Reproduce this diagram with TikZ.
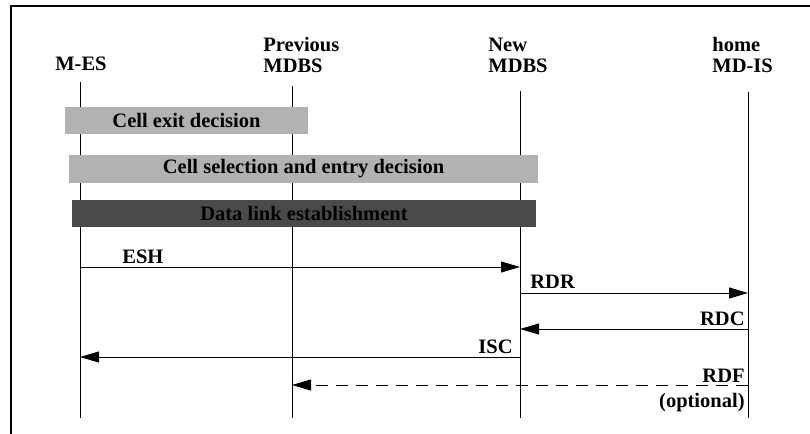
\documentclass[tikz,border=0pt]{standalone}
\usepackage{fontspec}
\setmainfont{Liberation Serif}
\usepackage{tikz}
\usetikzlibrary{arrows.meta}
\usepackage{xcolor}
\definecolor{lightbar}{gray}{0.70}
\definecolor{darkbar}{gray}{0.29}

\begin{document}
\begin{tikzpicture}[x=0.5pt, y=-0.5pt,
    every node/.style={font=\fontsize{10.25}{10.5}\selectfont\bfseries, inner sep=0pt},
    life/.style={line width=0.5pt},
    bar/.style={minimum height=13.5pt},
    msg/.style={line width=0.5pt, -{Triangle[length=9.5pt, width=5.5pt]}}]
    \useasboundingbox (0,0) rectangle (810,434);
    \draw[line width=0.6pt] (11,434) -- (11,6) -- (810,6);
    % entities
    \node[anchor=base] (mes) at (81,70) {M-ES};
    \node[anchor=south west, align=left] (prev) at (263,73) {Previous\\MDBS};
    \node[anchor=south west, align=left] (new) at (488,73) {New\\MDBS};
    \node[anchor=south west, align=left] (home) at (712,73) {home\\MD-IS};
    % lifelines
    \foreach \n/\x/\t in {mes/80/82, prev/292/86, new/520/91, home/748/92} {
        \coordinate (\n-top) at (\x,\t);
        \coordinate (\n-bot) at (\x,418);
        \draw[life] (\n-top) -- (\n-bot);
    }
    % phases
    \node[bar, fill=lightbar, minimum width=121.5pt] (exit) at (186.5,120.5) {Cell exit decision};
    \node[bar, fill=lightbar, minimum width=234.5pt, minimum height=14pt] (select) at (303.5,169) {Cell selection and entry decision};
    \node[bar, fill=darkbar, minimum width=232pt] (link) at (304,213.5) {Data link establishment};
    % messages
    \coordinate (esh) at (0,267);
    \coordinate (rdr) at (0,293);
    \coordinate (rdc) at (0,329);
    \coordinate (isc) at (0,357);
    \coordinate (rdf) at (0,385);
    \draw[msg] (mes-top |- esh) -- (new-top |- esh);
    \draw[msg] (new-top |- rdr) -- (home-top |- rdr);
    \draw[msg] (home-top |- rdc) -- (new-top |- rdc);
    \draw[msg] (new-top |- isc) -- (mes-top |- isc);
    \draw[msg, dash pattern=on 6pt off 4pt] (home-top |- rdf) -- (prev-top |- rdf);
    \node[anchor=base west] (eshlbl) at (122,263) {ESH};
    \node[anchor=base west] (rdrlbl) at (530,288) {RDR};
    \node[anchor=base east] (rdclbl) at (745,325) {RDC};
    \node[anchor=base east] (isclbl) at (513,353) {ISC};
    \node[anchor=base east] (rdflbl) at (745,382) {RDF};
    \node[anchor=base east] (optlbl) at (745,407) {(optional)};
\end{tikzpicture}
\end{document}
